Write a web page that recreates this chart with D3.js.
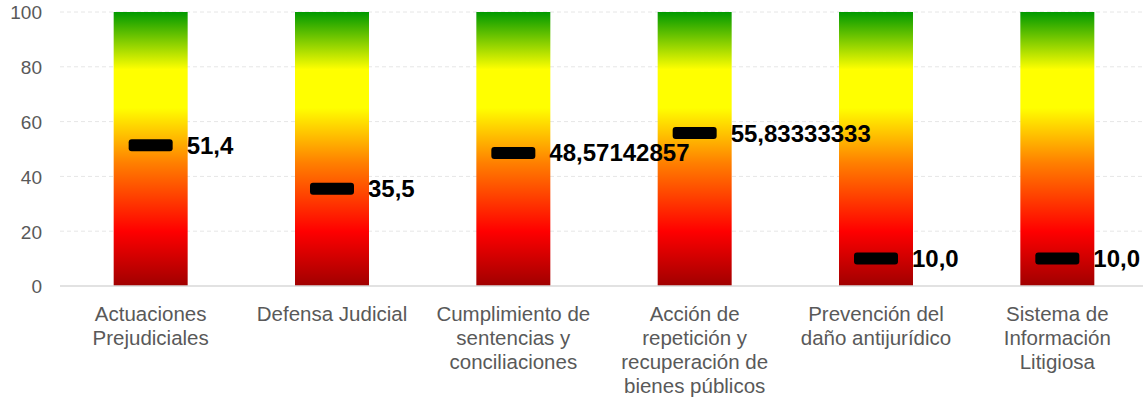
<!DOCTYPE html>
<html><head><meta charset="utf-8">
<script src="https://cdn.jsdelivr.net/npm/d3@7"></script>
<style>body{margin:0;background:#fff}svg{display:block}</style>
</head><body>
<svg id="c" width="1143" height="400"></svg>
<script>
const categories = [
  ["Actuaciones","Prejudiciales"],
  ["Defensa Judicial"],
  ["Cumplimiento de","sentencias y","conciliaciones"],
  ["Acción de","repetición y","recuperación de","bienes públicos"],
  ["Prevención del","daño antijurídico"],
  ["Sistema de","Información","Litigiosa"]
];
const scaleMax = [100,100,100,100,100,100];
const values = [51.4, 35.5, 48.57142857, 55.83333333, 10.0, 10.0];
const valueLabels = ["51,4","35,5","48,57142857","55,83333333","10,0","10,0"];
const yTicks = [0,20,40,60,80,100];

(function(){
const svg = d3.select("#c");
const FONT = "'Liberation Sans', Arial, sans-serif";
const mLeft = 60, mRight = 1148, mTop = 12, mBottom = 286;
const x = d3.scaleBand().domain(d3.range(categories.length)).range([mLeft,mRight]).paddingInner(0.592).paddingOuter(0.296);
const y = d3.scaleLinear().domain([0,100]).range([mBottom,mTop]);

const defs = svg.append("defs");
const g = defs.append("linearGradient").attr("id","grad").attr("x1",0).attr("y1",1).attr("x2",0).attr("y2",0);
[[0,"#a00000"],[0.2,"#ff0000"],[0.45,"#ff8000"],[0.65,"#ffff00"],[0.79,"#ffff00"],[1,"#009900"]]
  .forEach(([o,c])=>g.append("stop").attr("offset",o).attr("stop-color",c));

// gridlines
svg.append("g").selectAll("line").data(yTicks.filter(d=>d>0)).join("line")
  .attr("x1",mLeft).attr("x2",mRight).attr("y1",d=>y(d)).attr("y2",d=>y(d))
  .attr("stroke","#e6e6e6").attr("stroke-width",1).attr("stroke-dasharray","4,3");

// y axis labels
const yAxis = d3.axisLeft(y).tickValues(yTicks).tickSize(0).tickPadding(0);
const ya = svg.append("g").attr("transform",`translate(42,0)`).call(yAxis);
ya.select(".domain").remove();
ya.selectAll("text").attr("fill","#595959").attr("dy","0.36em").style("font-family",FONT).style("font-size","19px");

// bars
svg.append("g").selectAll("rect").data(scaleMax).join("rect")
  .attr("x",(d,i)=>x(i)).attr("width",x.bandwidth())
  .attr("y",d=>y(d)).attr("height",d=>y(0)-y(d)).attr("fill","url(#grad)");

// baseline
svg.append("line").attr("x1",mLeft).attr("x2",mRight).attr("y1",y(0)).attr("y2",y(0))
  .attr("stroke","#d9d9d9").attr("stroke-width",1.5);

// markers
const mw = 44, mh = 12;
svg.append("g").selectAll("rect").data(values).join("rect")
  .attr("x",(d,i)=>x(i)+x.bandwidth()/2-mw/2).attr("width",mw)
  .attr("y",d=>y(d)-mh/2).attr("height",mh).attr("rx",3).attr("fill","#000");

// value labels
svg.append("g").selectAll("text").data(values).join("text")
  .attr("x",(d,i)=>x(i)+x.bandwidth()/2+mw/2+14).attr("y",d=>y(d)+8.5)
  .text((d,i)=>valueLabels[i])
  .attr("fill","#000").style("font-family",FONT)
  .style("font-size","24px").style("font-weight","bold");

// category labels
const cl = svg.append("g").selectAll("text").data(categories).join("text")
  .attr("x",(d,i)=>x(i)+x.bandwidth()/2).attr("y",321)
  .attr("text-anchor","middle").attr("fill","#595959")
  .style("font-family",FONT).style("font-size","20.5px");
cl.selectAll("tspan").data(d=>d).join("tspan")
  .attr("x",function(){return this.parentNode.getAttribute("x");})
  .attr("dy",(d,i)=>i===0?0:24).text(d=>d);
})();
</script>
</body></html>
